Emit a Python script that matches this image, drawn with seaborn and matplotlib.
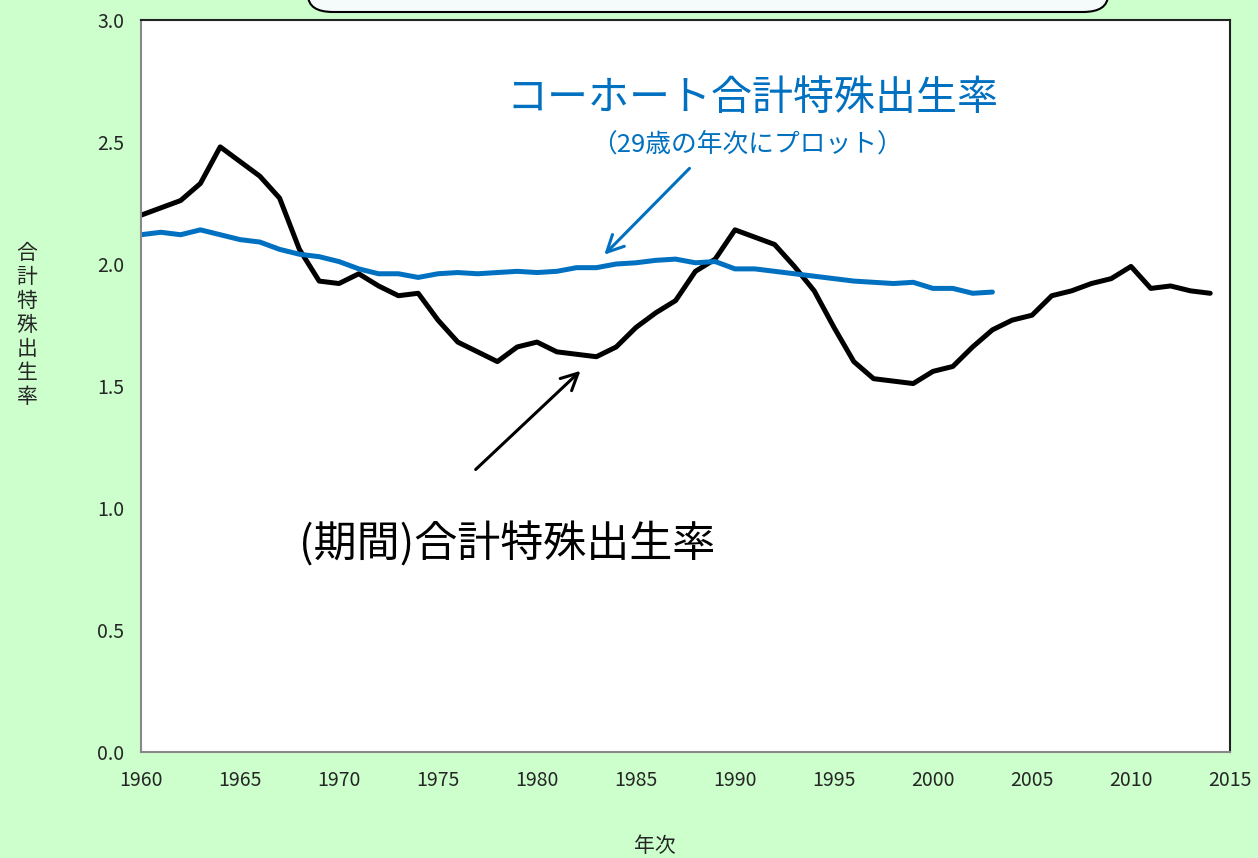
import numpy as np
import pandas as pd
import matplotlib
matplotlib.use("Agg")
import matplotlib.pyplot as plt
from matplotlib.patches import FancyBboxPatch
import seaborn as sns

# Données
period_years = list(range(1960, 2015))
period_tfr = [2.20, 2.23, 2.26, 2.33, 2.48, 2.42, 2.36, 2.27, 2.06, 1.93,
              1.92, 1.96, 1.91, 1.87, 1.88, 1.77, 1.68, 1.64, 1.60, 1.66,
              1.68, 1.64, 1.63, 1.62, 1.66, 1.74, 1.80, 1.85, 1.97, 2.02,
              2.14, 2.11, 2.08, 1.99, 1.89, 1.74, 1.60, 1.53, 1.52, 1.51,
              1.56, 1.58, 1.66, 1.73, 1.77, 1.79, 1.87, 1.89, 1.92, 1.94,
              1.99, 1.90, 1.91, 1.89, 1.88]

cohort_years = list(range(1960, 2004))
cohort_tfr = [2.12, 2.13, 2.12, 2.14, 2.12, 2.10, 2.09, 2.06, 2.04, 2.03,
              2.01, 1.98, 1.96, 1.96, 1.945, 1.96, 1.965, 1.96, 1.965, 1.97,
              1.965, 1.97, 1.985, 1.985, 2.00, 2.005, 2.015, 2.02, 2.005, 2.01,
              1.98, 1.98, 1.97, 1.96, 1.95, 1.94, 1.93, 1.925, 1.92, 1.925,
              1.90, 1.90, 1.88, 1.885]

x_ticks = list(range(1960, 2016, 5))
y_ticks = [0.0, 0.5, 1.0, 1.5, 2.0, 2.5, 3.0]

period_df = pd.DataFrame({"year": period_years, "tfr": period_tfr})
cohort_df = pd.DataFrame({"year": cohort_years, "tfr": cohort_tfr})

sns.set_style("white")
plt.rcParams['font.family'] = ['Noto Sans CJK JP', 'DejaVu Sans']

BG = "#CCFFCC"
BLUE = "#0070C0"

fig = plt.figure(figsize=(12.58, 8.58), dpi=100, facecolor=BG)
ax = fig.add_axes([141 / 1258, 1 - 752 / 858, (1230 - 141) / 1258, (752 - 20) / 858])
ax.set_facecolor("white")

sns.lineplot(data=period_df, x="year", y="tfr", color="black", linewidth=3.6, ax=ax)
sns.lineplot(data=cohort_df, x="year", y="tfr", color=BLUE, linewidth=3.6, ax=ax)

ax.set_xlim(1960, 2015)
ax.set_ylim(0, 3.0)
ax.set_xticks(x_ticks)
ax.set_yticks(y_ticks)
ax.set_yticklabels([f"{v:.1f}" for v in y_ticks])
ax.tick_params(axis="both", direction="out", length=5, width=1.2, color="#888888",
               labelsize=14)
ax.tick_params(axis="x", pad=8)
ax.tick_params(axis="y", pad=7)
ax.set_xlabel("")
ax.set_ylabel("")

for side in ["left", "bottom"]:
    ax.spines[side].set_color("#888888")
    ax.spines[side].set_linewidth(1.5)
for side in ["top", "right"]:
    ax.spines[side].set_color("#222222")
    ax.spines[side].set_linewidth(1.5)

# Titres des axes
fig.text(27 / 1258, 1 - 325 / 858, "\n".join("合計特殊出生率"), ha="center", va="center",
         fontsize=15, linespacing=1.12)
fig.text(655 / 1258, 1 - 846 / 858, "年次", ha="center", va="center", fontsize=15)

# Annotations
ax.text(1990.9, 2.68, "コーホート合計特殊出生率", color=BLUE, fontsize=29.5,
        ha="center", va="center")
ax.text(1990.6, 2.49, "（29歳の年次にプロット）", color=BLUE, fontsize=18.5,
        ha="center", va="center")
ax.annotate("", xy=(1983.3, 2.03), xytext=(1987.8, 2.40),
            arrowprops=dict(arrowstyle="->", color=BLUE, lw=2.2, mutation_scale=30))
ax.text(1978.5, 0.85, "(期間)合計特殊出生率", color="black", fontsize=31,
        ha="center", va="center")
ax.annotate("", xy=(1982.3, 1.57), xytext=(1976.8, 1.15),
            arrowprops=dict(arrowstyle="->", color="black", lw=2.2, mutation_scale=30))

# Cadre arrondi en haut (coupé)
box = FancyBboxPatch((308 / 1258, 1 - 12 / 858), (1108 - 308) / 1258, 0.1,
                     boxstyle="round,pad=0,rounding_size=0.02",
                     transform=fig.transFigure, facecolor="#F5FAFA",
                     edgecolor="black", linewidth=1.5, clip_on=False)
fig.patches.append(box)

fig.savefig("out.png", dpi=100, facecolor=BG)
